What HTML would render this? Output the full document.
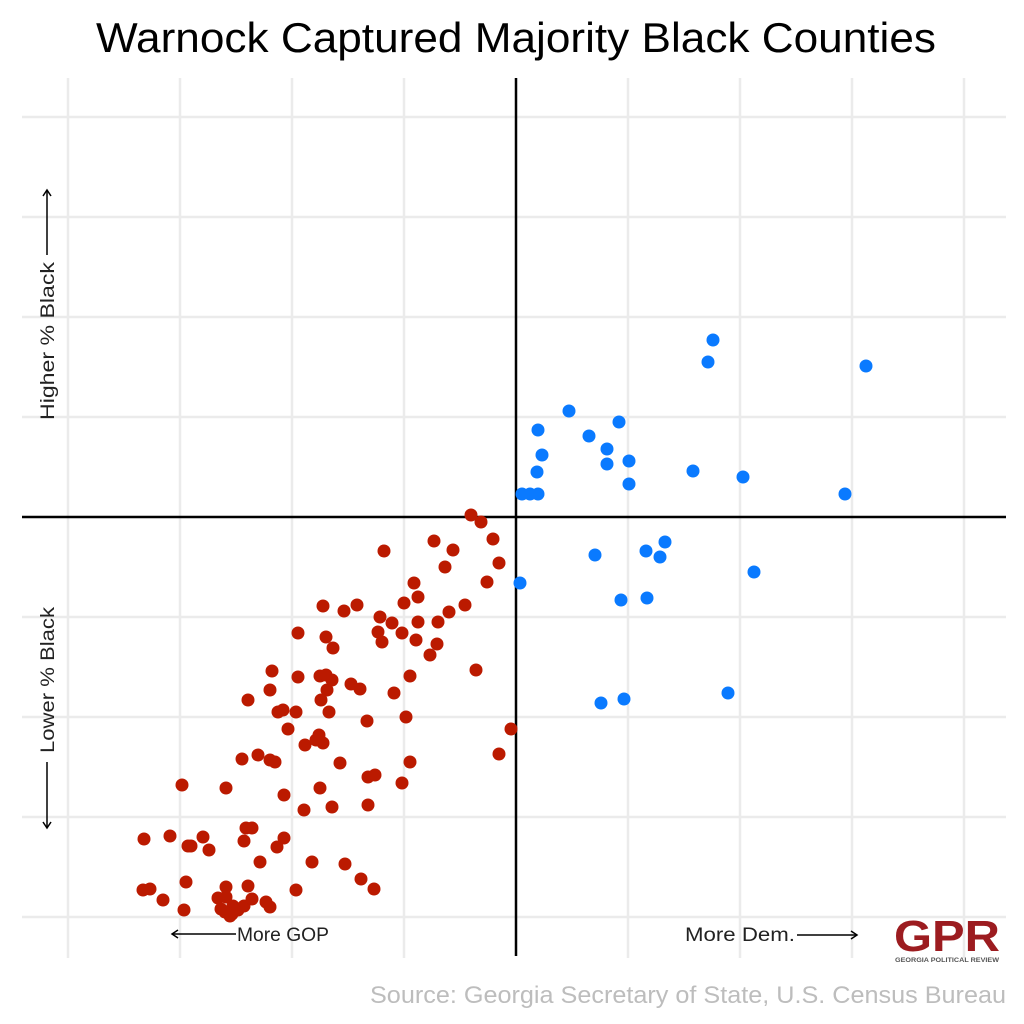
<!DOCTYPE html>
<html><head><meta charset="utf-8"><style>html,body{margin:0;padding:0;background:#fff}svg{display:block}</style></head>
<body>
<svg width="1024" height="1024" viewBox="0 0 1024 1024" xmlns="http://www.w3.org/2000/svg" font-family="'Liberation Sans', 'DejaVu Sans', sans-serif">
<rect width="1024" height="1024" fill="#fff"/>
<g stroke="#ebebeb" stroke-width="2.5">
<line x1="68" y1="78" x2="68" y2="958"/><line x1="180" y1="78" x2="180" y2="958"/><line x1="292" y1="78" x2="292" y2="958"/><line x1="404" y1="78" x2="404" y2="958"/><line x1="628" y1="78" x2="628" y2="958"/><line x1="740" y1="78" x2="740" y2="958"/><line x1="852" y1="78" x2="852" y2="958"/><line x1="964" y1="78" x2="964" y2="958"/>
<line x1="22" y1="117" x2="1006" y2="117"/><line x1="22" y1="217" x2="1006" y2="217"/><line x1="22" y1="317" x2="1006" y2="317"/><line x1="22" y1="417" x2="1006" y2="417"/><line x1="22" y1="617" x2="1006" y2="617"/><line x1="22" y1="717" x2="1006" y2="717"/><line x1="22" y1="817" x2="1006" y2="817"/><line x1="22" y1="917" x2="1006" y2="917"/>
</g>
<line x1="516" y1="78" x2="516" y2="956" stroke="#000" stroke-width="2.5"/>
<line x1="22" y1="517" x2="1006" y2="517" stroke="#000" stroke-width="2.5"/>
<text x="516" y="52" font-size="42" text-anchor="middle" textLength="840" lengthAdjust="spacingAndGlyphs" fill="#000">Warnock Captured Majority Black Counties</text>
<g fill="#0a7aff">
<circle cx="713" cy="340" r="6.5"/><circle cx="708" cy="362" r="6.5"/><circle cx="866" cy="366" r="6.5"/><circle cx="569" cy="411" r="6.5"/><circle cx="619" cy="422" r="6.5"/><circle cx="538" cy="430" r="6.5"/><circle cx="589" cy="436" r="6.5"/><circle cx="607" cy="449" r="6.5"/><circle cx="542" cy="455" r="6.5"/><circle cx="607" cy="464" r="6.5"/><circle cx="629" cy="461" r="6.5"/><circle cx="537" cy="472" r="6.5"/><circle cx="693" cy="471" r="6.5"/><circle cx="743" cy="477" r="6.5"/><circle cx="629" cy="484" r="6.5"/><circle cx="522" cy="494" r="6.5"/><circle cx="530" cy="494" r="6.5"/><circle cx="538" cy="494" r="6.5"/><circle cx="845" cy="494" r="6.5"/><circle cx="665" cy="542" r="6.5"/><circle cx="646" cy="551" r="6.5"/><circle cx="660" cy="557" r="6.5"/><circle cx="595" cy="555" r="6.5"/><circle cx="754" cy="572" r="6.5"/><circle cx="520" cy="583" r="6.5"/><circle cx="621" cy="600" r="6.5"/><circle cx="647" cy="598" r="6.5"/><circle cx="728" cy="693" r="6.5"/><circle cx="601" cy="703" r="6.5"/><circle cx="624" cy="699" r="6.5"/>
</g>
<g fill="#bb1a00">
<circle cx="471" cy="515" r="6.5"/><circle cx="481" cy="522" r="6.5"/><circle cx="493" cy="539" r="6.5"/><circle cx="434" cy="541" r="6.5"/><circle cx="453" cy="550" r="6.5"/><circle cx="384" cy="551" r="6.5"/><circle cx="499" cy="563" r="6.5"/><circle cx="445" cy="567" r="6.5"/><circle cx="487" cy="582" r="6.5"/><circle cx="414" cy="583" r="6.5"/><circle cx="418" cy="597" r="6.5"/><circle cx="404" cy="603" r="6.5"/><circle cx="323" cy="606" r="6.5"/><circle cx="344" cy="611" r="6.5"/><circle cx="357" cy="605" r="6.5"/><circle cx="465" cy="605" r="6.5"/><circle cx="449" cy="612" r="6.5"/><circle cx="380" cy="617" r="6.5"/><circle cx="392" cy="623" r="6.5"/><circle cx="418" cy="622" r="6.5"/><circle cx="438" cy="622" r="6.5"/><circle cx="298" cy="633" r="6.5"/><circle cx="326" cy="637" r="6.5"/><circle cx="378" cy="632" r="6.5"/><circle cx="402" cy="633" r="6.5"/><circle cx="333" cy="648" r="6.5"/><circle cx="382" cy="642" r="6.5"/><circle cx="437" cy="644" r="6.5"/><circle cx="416" cy="640" r="6.5"/><circle cx="430" cy="655" r="6.5"/><circle cx="476" cy="670" r="6.5"/><circle cx="272" cy="671" r="6.5"/><circle cx="298" cy="677" r="6.5"/><circle cx="320" cy="676" r="6.5"/><circle cx="326" cy="675" r="6.5"/><circle cx="351" cy="684" r="6.5"/><circle cx="327" cy="690" r="6.5"/><circle cx="270" cy="690" r="6.5"/><circle cx="248" cy="700" r="6.5"/><circle cx="360" cy="689" r="6.5"/><circle cx="394" cy="693" r="6.5"/><circle cx="410" cy="676" r="6.5"/><circle cx="332" cy="680" r="6.5"/><circle cx="321" cy="700" r="6.5"/><circle cx="283" cy="710" r="6.5"/><circle cx="278" cy="712" r="6.5"/><circle cx="296" cy="712" r="6.5"/><circle cx="329" cy="712" r="6.5"/><circle cx="406" cy="717" r="6.5"/><circle cx="367" cy="721" r="6.5"/><circle cx="288" cy="729" r="6.5"/><circle cx="319" cy="735" r="6.5"/><circle cx="316" cy="740" r="6.5"/><circle cx="323" cy="743" r="6.5"/><circle cx="511" cy="729" r="6.5"/><circle cx="242" cy="759" r="6.5"/><circle cx="258" cy="755" r="6.5"/><circle cx="270" cy="760" r="6.5"/><circle cx="275" cy="762" r="6.5"/><circle cx="305" cy="745" r="6.5"/><circle cx="340" cy="763" r="6.5"/><circle cx="368" cy="777" r="6.5"/><circle cx="375" cy="775" r="6.5"/><circle cx="410" cy="762" r="6.5"/><circle cx="499" cy="754" r="6.5"/><circle cx="182" cy="785" r="6.5"/><circle cx="226" cy="788" r="6.5"/><circle cx="284" cy="795" r="6.5"/><circle cx="320" cy="788" r="6.5"/><circle cx="402" cy="783" r="6.5"/><circle cx="332" cy="807" r="6.5"/><circle cx="368" cy="805" r="6.5"/><circle cx="304" cy="810" r="6.5"/><circle cx="246" cy="828" r="6.5"/><circle cx="252" cy="828" r="6.5"/><circle cx="144" cy="839" r="6.5"/><circle cx="170" cy="836" r="6.5"/><circle cx="203" cy="837" r="6.5"/><circle cx="188" cy="846" r="6.5"/><circle cx="191" cy="846" r="6.5"/><circle cx="209" cy="850" r="6.5"/><circle cx="244" cy="841" r="6.5"/><circle cx="284" cy="838" r="6.5"/><circle cx="277" cy="847" r="6.5"/><circle cx="260" cy="862" r="6.5"/><circle cx="312" cy="862" r="6.5"/><circle cx="345" cy="864" r="6.5"/><circle cx="361" cy="879" r="6.5"/><circle cx="374" cy="889" r="6.5"/><circle cx="143" cy="890" r="6.5"/><circle cx="150" cy="889" r="6.5"/><circle cx="186" cy="882" r="6.5"/><circle cx="226" cy="887" r="6.5"/><circle cx="248" cy="886" r="6.5"/><circle cx="163" cy="900" r="6.5"/><circle cx="184" cy="910" r="6.5"/><circle cx="226" cy="897" r="6.5"/><circle cx="296" cy="890" r="6.5"/><circle cx="218" cy="898" r="6.5"/><circle cx="221" cy="909" r="6.5"/><circle cx="233" cy="906" r="6.5"/><circle cx="232" cy="914" r="6.5"/><circle cx="238" cy="910" r="6.5"/><circle cx="244" cy="906" r="6.5"/><circle cx="252" cy="899" r="6.5"/><circle cx="266" cy="902" r="6.5"/><circle cx="270" cy="907" r="6.5"/><circle cx="230" cy="916" r="6.5"/><circle cx="225" cy="912" r="6.5"/>
</g>
<g fill="#222" font-size="19">
<text x="237" y="941" textLength="92" lengthAdjust="spacingAndGlyphs">More GOP</text>
<text x="685" y="941" textLength="110" lengthAdjust="spacingAndGlyphs">More Dem.</text>
<text transform="translate(54,420) rotate(-90)" textLength="158" lengthAdjust="spacingAndGlyphs">Higher % Black</text>
<text transform="translate(54,753) rotate(-90)" textLength="146" lengthAdjust="spacingAndGlyphs">Lower % Black</text>
</g>
<g stroke="#000" stroke-width="1.5" fill="none">
<line x1="172" y1="934" x2="236" y2="934"/><path d="M178,930 L172,934 L178,938"/>
<line x1="797" y1="935" x2="857" y2="935"/><path d="M851,931 L857,935 L851,939"/>
<line x1="47" y1="190" x2="47" y2="255"/><path d="M43,196 L47,190 L51,196"/>
<line x1="47" y1="762" x2="47" y2="828"/><path d="M43,822 L47,828 L51,822"/>
</g>
<text x="947" y="951" font-size="44" font-weight="bold" fill="#9c1c20" text-anchor="middle" textLength="106" lengthAdjust="spacingAndGlyphs">GPR</text>
<text x="947" y="962" font-size="6" font-weight="bold" fill="#555" text-anchor="middle" textLength="104" lengthAdjust="spacingAndGlyphs">GEORGIA POLITICAL REVIEW</text>
<text x="1006" y="1003" font-size="24" fill="#bdbdbd" text-anchor="end" textLength="636" lengthAdjust="spacingAndGlyphs">Source: Georgia Secretary of State, U.S. Census Bureau</text>
</svg>
</body></html>
